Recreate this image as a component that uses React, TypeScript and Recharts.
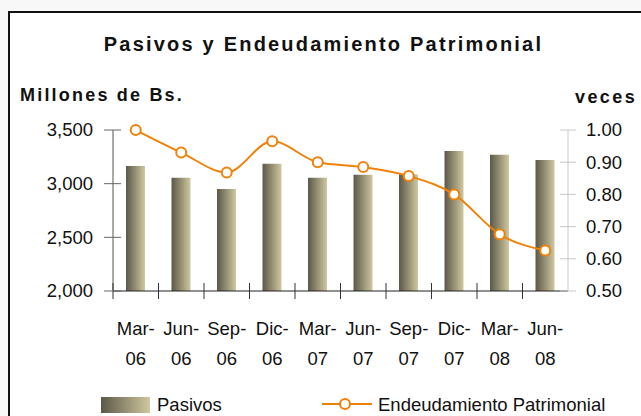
import { ComposedChart, Bar, Line, XAxis, YAxis, Legend } from "recharts";

const periods = ["Mar-06", "Jun-06", "Sep-06", "Dic-06", "Mar-07", "Jun-07", "Sep-07", "Dic-07", "Mar-08", "Jun-08"];
const pasivos = [3165, 3055, 2950, 3185, 3055, 3083, 3085, 3305, 3270, 3220];
const endeudamiento = [1.0, 0.93, 0.868, 0.965, 0.9, 0.885, 0.857, 0.8, 0.676, 0.626];
const leftTicks = [2000, 2500, 3000, 3500];
const rightTicks = [0.5, 0.6, 0.7, 0.8, 0.9, 1.0];

const ORANGE = "#F0820A";
const FONT = '"Liberation Sans", Arial, sans-serif';

const data = periods.map((p, i) => ({ periodo: p, pasivos: pasivos[i], endeud: endeudamiento[i] }));

// ticks cross the axis line, so draw them ourselves (tickSize 8, tickMargin 0)
function LeftTick(props: any) {
  const { x, y, payload } = props;
  const ax = x + 8;
  return (
    <g>
      <line x1={ax - 9} x2={ax + 8} y1={y} y2={y} stroke="#666" />
      <text x={ax - 20} y={y} dy="0.35em" textAnchor="end" fontSize={18.5} fill="#111" fontFamily={FONT}>
        {payload.value.toLocaleString("en-US")}
      </text>
    </g>
  );
}

function RightTick(props: any) {
  const { x, y, payload } = props;
  const ax = x - 8;
  return (
    <g>
      <line x1={ax - 8} x2={ax + 8} y1={y} y2={y} stroke="#c8c8c8" />
      <text x={ax + 18} y={y} dy="0.35em" textAnchor="start" fontSize={18.5} fill="#111" fontFamily={FONT}>
        {payload.value.toFixed(2)}
      </text>
    </g>
  );
}

function XTick(props: any) {
  const { x, y, payload } = props;
  const half = payload.offset ?? 22.75;
  const ay = y - 8;
  const [mes, anio] = String(payload.value).split("-");
  return (
    <g>
      <line x1={x - half} x2={x - half} y1={ay - 8} y2={ay + 8} stroke="#333" />
      <text x={x} y={ay + 44} textAnchor="middle" fontSize={18.5} fill="#111" fontFamily={FONT}>
        {mes}-
      </text>
      <text x={x} y={ay + 74} textAnchor="middle" fontSize={18.5} fill="#111" fontFamily={FONT}>
        {anio}
      </text>
    </g>
  );
}

function LegendBox() {
  return (
    <div style={{ position: "relative", width: 641, height: 30, fontFamily: FONT, fontSize: 18.5, color: "#111" }}>
      <div
        style={{
          position: "absolute", left: 101, top: 11, width: 49, height: 16,
          background: "linear-gradient(to right, #5b5848, #cfc8a0)",
        }}
      />
      <span style={{ position: "absolute", left: 157, top: 8, lineHeight: "22px" }}>Pasivos</span>
      <svg style={{ position: "absolute", left: 320, top: 8 }} width={54} height={20}>
        <line x1={2} x2={52} y1={10} y2={10} stroke={ORANGE} strokeWidth={2} />
        <circle cx={25} cy={10} r={5} fill="#fff" stroke={ORANGE} strokeWidth={2} />
      </svg>
      <span style={{ position: "absolute", left: 378, top: 8, lineHeight: "22px" }}>Endeudamiento Patrimonial</span>
    </div>
  );
}

export default function App() {
  return (
    <div style={{ position: "absolute", left: 0, top: 0, width: 641, height: 416, background: "#f8f8f8", overflow: "hidden", fontFamily: FONT }}>
      <div style={{ position: "absolute", left: 8, top: 11, width: 700, height: 500, border: "2px solid #111", background: "#fff" }} />
      <div style={{ position: "absolute", left: 0, width: 641, top: 33, textAlign: "center", fontSize: 20, fontWeight: "bold", letterSpacing: 2.2, color: "#111", paddingLeft: 6, boxSizing: "border-box" }}>
        Pasivos y Endeudamiento Patrimonial
      </div>
      <div style={{ position: "absolute", left: 20, top: 85, fontSize: 18, fontWeight: "bold", letterSpacing: 2.2, color: "#111" }}>
        Millones de Bs.
      </div>
      <div style={{ position: "absolute", left: 575, top: 87, fontSize: 18, fontWeight: "bold", letterSpacing: 2.4, color: "#111" }}>
        veces
      </div>
      <div style={{ position: "absolute", left: 0, top: 0 }}>
        <ComposedChart width={641} height={416} data={data} margin={{ top: 130, right: 0, bottom: 0, left: 0 }}>
          <defs>
            <linearGradient id="barGrad" x1="0" y1="0" x2="1" y2="0">
              <stop offset="0%" stopColor="#5b5848" />
              <stop offset="100%" stopColor="#cfc8a0" />
            </linearGradient>
          </defs>
          <XAxis
            dataKey="periodo"
            height={95}
            tickSize={8}
            tickMargin={0}
            tickLine={false}
            axisLine={{ stroke: "#222" }}
            tick={<XTick />}
            interval={0}
          />
          <YAxis
            yAxisId="left"
            width={113}
            domain={[2000, 3500]}
            ticks={leftTicks}
            tickSize={8}
            tickMargin={0}
            tickLine={false}
            axisLine={{ stroke: "#555" }}
            tick={<LeftTick />}
          />
          <YAxis
            yAxisId="right"
            orientation="right"
            width={73}
            domain={[0.5, 1.0]}
            ticks={rightTicks}
            tickSize={8}
            tickMargin={0}
            tickLine={false}
            axisLine={{ stroke: "#c8c8c8" }}
            tick={<RightTick />}
          />
          <Legend verticalAlign="bottom" height={30} wrapperStyle={{ left: 0, width: 641 }} content={<LegendBox />} />
          <Bar yAxisId="left" dataKey="pasivos" name="Pasivos" barSize={19} fill="url(#barGrad)" isAnimationActive={false} />
          <Line
            yAxisId="right"
            type="monotone"
            dataKey="endeud"
            name="Endeudamiento Patrimonial"
            stroke={ORANGE}
            strokeWidth={2}
            dot={{ r: 5, fill: "#fff", stroke: ORANGE, strokeWidth: 2 }}
            isAnimationActive={false}
          />
        </ComposedChart>
      </div>
    </div>
  );
}
